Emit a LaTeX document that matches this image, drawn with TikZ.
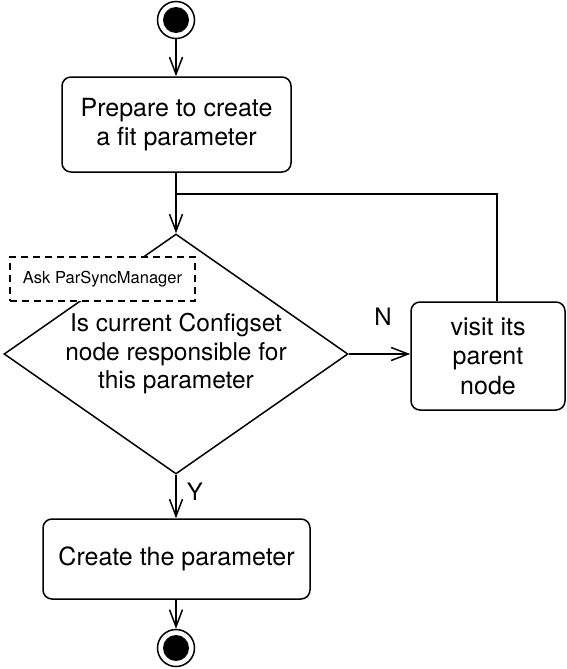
\documentclass[tikz,border=0pt]{standalone}
\usepackage{fontspec}
\setmainfont{TeX Gyre Heros}
\usetikzlibrary{shapes.geometric,arrows.meta}
\begin{document}
\begin{tikzpicture}[x=1pt,y=-1pt,
  lw/.style={line width=1.5pt},
  every node/.style={font=\fontsize{24}{29}\selectfont},
  actbox/.style={draw, lw, rounded corners=9pt, align=center, inner sep=0pt, font=\fontsize{25}{29.5}\selectfont},
  decbox/.style={draw, lw, diamond, aspect=1.43, minimum width=344pt, minimum height=240pt, inner sep=0pt, align=center, font=\fontsize{24.5}{28.5}\selectfont},
  notebox/.style={draw, lw, dashed, dash pattern=on 7pt off 5pt, fill=white, minimum width=185pt, minimum height=44pt, inner sep=0pt, font=\fontsize{16.5}{20}\selectfont},
  initnode/.style={circle, draw, lw, minimum size=37pt, inner sep=0pt,
     path picture={\fill (path picture bounding box.center) circle[radius=13pt];}},
  arr/.style={lw, -{Straight Barb[length=17pt,width=13pt,line width=1.5pt]}},
  conn/.style={lw},
  lbl/.style={inner sep=0pt}
]
\useasboundingbox (0,0) rectangle (567,669);

\node[initnode] (start) at (176,20) {};
\node[actbox, minimum width=229pt, minimum height=95pt] (prep) at (176.5,124.5) {Prepare to create\\a fit parameter};
\node[decbox] (dec) at (176,354) {Is current Configset\\node responsible for\\this parameter};
\node[notebox] (ask) at (102.5,279) {Ask ParSyncManager};
\node[actbox, minimum width=154pt, minimum height=108pt] (visit) at (488,356) {visit its\\parent\\node};
\node[actbox, minimum width=267pt, minimum height=80pt] (create) at (176.5,559) {Create the parameter};
\node[initnode] (end) at (176,648) {};

\coordinate (join) at (176,194);
\coordinate (loopc) at (497,194);

\draw[arr] (start.south) -- (start.south |- prep.north);
\draw[arr] (prep.south -| dec.north) -- (dec.north);
\draw[conn] (visit.north -| loopc) -- (loopc) -- (join);
\draw[arr] (dec.east) -- (dec.east -| visit.west);
\draw[arr] (dec.south) -- (dec.south |- create.north);
\draw[arr] (create.south -| end.north) -- (end.north);

\node[lbl] (nlab) at (383,317) {N};
\node[lbl] (ylab) at (195,492) {Y};
\end{tikzpicture}
\end{document}
